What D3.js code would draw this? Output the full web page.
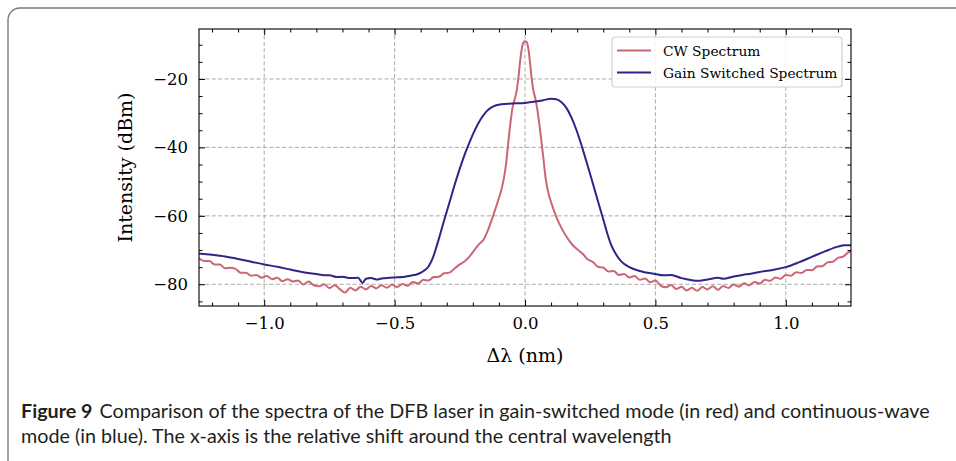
<!DOCTYPE html>
<html>
<head>
<meta charset="utf-8">
<script src="https://cdn.jsdelivr.net/npm/d3@7"></script>
<style>
  body { margin: 0; background: #fff; }
  svg { display: block; }
</style>
</head>
<body>
<svg id="chart"></svg>
<script>
const width = 956;
const height = 461;
const plot = { left: 199, right: 851, top: 29, bottom: 306 };

// CW spectrum (pink) - shift in nm, power in dBm
const cwShift = [
  -1.25, -1.23, -1.21, -1.19, -1.17, -1.15, -1.13, -1.11, -1.09, -1.07,
  -1.05, -1.03, -1.01, -0.99, -0.97, -0.95, -0.93, -0.91, -0.89, -0.87,
  -0.85, -0.83, -0.81, -0.79, -0.77, -0.75, -0.73, -0.71, -0.69, -0.67,
  -0.65, -0.63, -0.61, -0.59, -0.57, -0.55, -0.53, -0.51, -0.49, -0.47,
  -0.45, -0.43, -0.41, -0.39, -0.37, -0.35, -0.33, -0.31, -0.29, -0.27,
  -0.25, -0.23,
  -0.21, -0.19, -0.175, -0.16, -0.15, -0.14, -0.13, -0.12, -0.11, -0.1,
  -0.09, -0.08, -0.072, -0.064, -0.055, -0.047, -0.04, -0.032, -0.025, -0.019,
  -0.013, -0.007, 0, 0.007, 0.013, 0.019, 0.025, 0.032, 0.04, 0.047,
  0.058, 0.07, 0.08, 0.09, 0.1, 0.12, 0.14, 0.16, 0.18,
  0.2, 0.22, 0.24, 0.26, 0.28, 0.3, 0.32, 0.34, 0.36, 0.38,
  0.4, 0.42, 0.44, 0.46, 0.48, 0.5, 0.52, 0.54, 0.56, 0.58,
  0.6, 0.62, 0.64, 0.66, 0.68, 0.7, 0.72, 0.74, 0.76, 0.78,
  0.8, 0.82, 0.84, 0.86, 0.88, 0.9, 0.92, 0.94, 0.96, 0.98,
  1.0, 1.02, 1.04, 1.06, 1.08, 1.1, 1.12, 1.14, 1.16, 1.18,
  1.2, 1.22, 1.24, 1.25
];
const cwPower = [
  -72.4, -73.2, -73.2, -74.2, -74.2, -75.3, -75.2, -75.5, -76.6, -76.6,
  -77.5, -77.3, -78.1, -77.6, -78.5, -78.1, -79.1, -78.5, -79.2, -78.9,
  -80.1, -79.2, -80.3, -80.6, -80.0, -81.1, -80.3, -81.4, -82.4, -81.0,
  -81.8, -80.7, -81.5, -80.5, -81.2, -80.3, -81.0, -80.1, -80.8, -79.9,
  -80.4, -79.3, -79.8, -78.7, -78.9, -77.9, -77.8, -76.8, -76.6, -75.4,
  -74.2, -73.2,
  -71.6, -69.6, -68.2, -67.1, -65.6, -63.8, -61.7, -59.5, -57.2, -54.8,
  -52.2, -48.6, -44.5, -38.5, -32.3, -28.0, -26.0, -23.5, -19.5, -15.0,
  -11.5, -9.5, -9.0, -9.3, -11.2, -15.0, -19.5, -23.3, -25.8, -28.8,
  -35.0, -42.8, -49.5, -53.4, -56.0, -60.3, -63.6, -66.2, -68.3,
  -69.8, -71.0, -72.7, -73.5, -74.9, -75.1, -76.3, -76.1, -77.3, -77.0,
  -78.0, -77.6, -78.7, -78.3, -79.4, -78.9, -80.4, -80.9, -80.2, -81.4,
  -80.7, -81.8, -81.0, -81.9, -80.8, -81.5, -80.6, -81.6, -80.5, -81.1,
  -80.1, -80.7, -79.7, -80.3, -79.3, -79.8, -78.7, -79.0, -78.0, -78.4,
  -77.3, -77.5, -76.5, -76.7, -75.8, -75.9, -74.8, -74.7, -73.6, -73.4,
  -72.3, -71.9, -70.7, -70.4
];

// Gain switched spectrum (blue)
const gsShift = [
  -1.25, -1.2, -1.15, -1.1, -1.05, -1.0, -0.95, -0.9, -0.85, -0.8,
  -0.77, -0.75, -0.72, -0.7, -0.67, -0.64, -0.623, -0.61, -0.59, -0.569,
  -0.55, -0.52, -0.5, -0.47, -0.44, -0.41, -0.39, -0.37, -0.355, -0.34,
  -0.325, -0.31, -0.29, -0.27, -0.25, -0.23, -0.21, -0.19, -0.17, -0.15,
  -0.13, -0.11, -0.09, -0.05, 0, 0.04, 0.07, 0.1, 0.12, 0.14,
  0.16, 0.18, 0.2, 0.22, 0.24, 0.26, 0.28, 0.3, 0.315, 0.33,
  0.35, 0.37, 0.4, 0.44, 0.5, 0.53, 0.56, 0.6, 0.64, 0.66,
  0.7, 0.74, 0.76, 0.8, 0.85, 0.9, 0.95, 1.0, 1.05, 1.1,
  1.15, 1.2, 1.225, 1.25
];
const gsPower = [
  -71.0, -71.4, -71.9, -72.6, -73.4, -74.2, -74.9, -75.7, -76.5, -77.0,
  -77.4, -77.4, -77.9, -77.8, -78.2, -78.1, -79.6, -78.4, -78.2, -78.6,
  -78.3, -78.1, -78.0, -77.9, -77.5, -77.0, -76.2, -74.8, -72.6, -69.2,
  -65.3, -61.3, -56.2, -51.0, -46.2, -41.8, -38.0, -34.6, -31.8, -29.7,
  -28.4, -27.7, -27.4, -27.2, -27.0, -26.6, -26.2, -25.8, -25.9, -26.8,
  -28.6, -31.6, -35.5, -40.2, -45.3, -50.5, -55.8, -61.0, -65.0, -68.4,
  -71.4, -73.4, -75.0, -76.1, -77.0, -77.4, -77.3, -78.2, -78.8, -79.0,
  -78.6, -78.1, -78.4, -77.7, -77.1, -76.4, -75.8, -75.0, -73.6, -72.0,
  -70.4, -69.0, -68.6, -68.6
];

const xMajor = [-1.0, -0.5, 0.0, 0.5, 1.0];
const xMinor = [-1.2, -1.1, -0.9, -0.8, -0.7, -0.6, -0.4, -0.3, -0.2, -0.1,
                0.1, 0.2, 0.3, 0.4, 0.6, 0.7, 0.8, 0.9, 1.1, 1.2];
const yMajor = [-80, -60, -40, -20];
const yMinor = [-85, -75, -70, -65, -55, -50, -45, -35, -30, -25, -15, -10];

const seriesNames = ["CW Spectrum", "Gain Switched Spectrum"];
const seriesColors = ["#CC6677", "#332288"];

const captionBold = "Figure 9";
const captionLine1 = "Comparison of the spectra of the DFB laser in gain-switched mode (in red) and continuous-wave";
const captionLine2 = "mode (in blue). The x-axis is the relative shift around the central wavelength";

const serif = "'DejaVu Serif', serif";

const svg = d3.select("#chart")
  .attr("width", width)
  .attr("height", height);

svg.append("rect").attr("width", width).attr("height", height).attr("fill", "#fff");

// figure frame (open to the right and bottom)
svg.append("rect")
  .attr("x", 8).attr("y", 8)
  .attr("width", 1000).attr("height", 470)
  .attr("rx", 12)
  .attr("fill", "none")
  .attr("stroke", "#7a7a7a")
  .attr("stroke-width", 1.4);

const xScale = d3.scaleLinear().domain([-1.25, 1.25]).range([plot.left, plot.right]);
const yScale = d3.scaleLinear().domain([-86.35, -5.4]).range([plot.bottom, plot.top]);

// grid
const grid = svg.append("g").attr("stroke", "#a0a0a0").attr("stroke-width", 0.9)
  .attr("stroke-dasharray", "4,2.4");
grid.selectAll(".gx").data(xMajor).enter().append("line")
  .attr("x1", d => xScale(d)).attr("x2", d => xScale(d))
  .attr("y1", plot.top).attr("y2", plot.bottom);
grid.selectAll(".gy").data(yMajor).enter().append("line")
  .attr("y1", d => yScale(d)).attr("y2", d => yScale(d))
  .attr("x1", plot.left).attr("x2", plot.right);

// curves
const line = d3.line()
  .x(d => xScale(d[0]))
  .y(d => yScale(d[1]))
  .curve(d3.curveMonotoneX);

const cwData = cwShift.map((s, i) => [s, cwPower[i]]);
const gsData = gsShift.map((s, i) => [s, gsPower[i]]);

svg.append("defs").append("clipPath").attr("id", "clip")
  .append("rect")
  .attr("x", plot.left).attr("y", plot.top)
  .attr("width", plot.right - plot.left).attr("height", plot.bottom - plot.top);

const curves = svg.append("g").attr("clip-path", "url(#clip)");
curves.append("path").datum(cwData)
  .attr("d", line).attr("fill", "none")
  .attr("stroke", seriesColors[0]).attr("stroke-width", 2)
  .attr("stroke-linejoin", "round");
curves.append("path").datum(gsData)
  .attr("d", line).attr("fill", "none")
  .attr("stroke", seriesColors[1]).attr("stroke-width", 2)
  .attr("stroke-linejoin", "round");

// axes: ticks pointing inward on all four sides
const fmtX = d3.format(".1f");
const fmtY = d3.format("d");

function styleAxis(g) {
  g.select(".domain").remove();
  g.selectAll("line").attr("stroke", "#000").attr("stroke-width", 1);
  g.selectAll("text").attr("font-family", serif).attr("font-size", 16.5).attr("fill", "#000");
}

svg.append("g")
  .attr("transform", "translate(0," + plot.bottom + ")")
  .call(d3.axisBottom(xScale).tickValues(xMajor).tickFormat(fmtX).tickSizeInner(-6).tickSizeOuter(0).tickPadding(11))
  .call(styleAxis);
svg.append("g")
  .attr("transform", "translate(0," + plot.bottom + ")")
  .call(d3.axisBottom(xScale).tickValues(xMinor).tickFormat("").tickSizeInner(-3.5).tickSizeOuter(0))
  .call(styleAxis);
svg.append("g")
  .attr("transform", "translate(0," + plot.top + ")")
  .call(d3.axisTop(xScale).tickValues(xMajor).tickFormat("").tickSizeInner(-6).tickSizeOuter(0))
  .call(styleAxis);
svg.append("g")
  .attr("transform", "translate(0," + plot.top + ")")
  .call(d3.axisTop(xScale).tickValues(xMinor).tickFormat("").tickSizeInner(-3.5).tickSizeOuter(0))
  .call(styleAxis);

svg.append("g")
  .attr("transform", "translate(" + plot.left + ",0)")
  .call(d3.axisLeft(yScale).tickValues(yMajor).tickFormat(fmtY).tickSizeInner(-6).tickSizeOuter(0).tickPadding(11))
  .call(styleAxis);
svg.append("g")
  .attr("transform", "translate(" + plot.left + ",0)")
  .call(d3.axisLeft(yScale).tickValues(yMinor).tickFormat("").tickSizeInner(-3.5).tickSizeOuter(0))
  .call(styleAxis);
svg.append("g")
  .attr("transform", "translate(" + plot.right + ",0)")
  .call(d3.axisRight(yScale).tickValues(yMajor).tickFormat("").tickSizeInner(-6).tickSizeOuter(0))
  .call(styleAxis);
svg.append("g")
  .attr("transform", "translate(" + plot.right + ",0)")
  .call(d3.axisRight(yScale).tickValues(yMinor).tickFormat("").tickSizeInner(-3.5).tickSizeOuter(0))
  .call(styleAxis);

// plot frame
svg.append("rect")
  .attr("x", plot.left).attr("y", plot.top)
  .attr("width", plot.right - plot.left).attr("height", plot.bottom - plot.top)
  .attr("fill", "none").attr("stroke", "#000").attr("stroke-width", 1.1);

// axis labels
svg.append("text")
  .attr("x", (plot.left + plot.right) / 2).attr("y", 362)
  .attr("text-anchor", "middle")
  .attr("font-family", serif).attr("font-size", 19)
  .text("\u0394\u03bb (nm)");

svg.append("text")
  .attr("transform", "translate(132," + ((plot.top + plot.bottom) / 2) + ") rotate(-90)")
  .attr("text-anchor", "middle")
  .attr("font-family", serif).attr("font-size", 19)
  .text("Intensity (dBm)");

// legend
const legend = svg.append("g").attr("transform", "translate(612,37)");
legend.append("rect")
  .attr("width", 230).attr("height", 50).attr("rx", 3)
  .attr("fill", "#fff").attr("fill-opacity", 0.85)
  .attr("stroke", "#d0d0d0").attr("stroke-width", 1.2);
const entries = legend.selectAll(".entry")
  .data(seriesNames)
  .enter().append("g")
  .attr("transform", (d, i) => "translate(0," + (13.5 + i * 22) + ")");
entries.append("line")
  .attr("x1", 5).attr("x2", 39).attr("y1", 0).attr("y2", 0)
  .attr("stroke", (d, i) => seriesColors[i]).attr("stroke-width", 2);
entries.append("text")
  .attr("x", 51).attr("y", 5)
  .attr("font-family", serif).attr("font-size", 13.8)
  .text(d => d);

// caption
const caption = svg.append("g").attr("font-family", "Lato, 'Open Sans', sans-serif").attr("fill", "#231f20");
const line1 = caption.append("text").attr("x", 21).attr("y", 418).attr("font-size", 16);
line1.append("tspan").attr("font-weight", "bold").text(captionBold);
line1.append("tspan").attr("dx", 7).text(captionLine1);
const line2 = caption.append("text").attr("x", 21).attr("y", 443).attr("font-size", 16)
  .text(captionLine2);

// fit the first caption line to the width used in the figure
const w1 = line1.node().getComputedTextLength();
const size = 16 * 902 / w1;
line1.attr("font-size", size);
line2.attr("font-size", size);
</script>
</body>
</html>
